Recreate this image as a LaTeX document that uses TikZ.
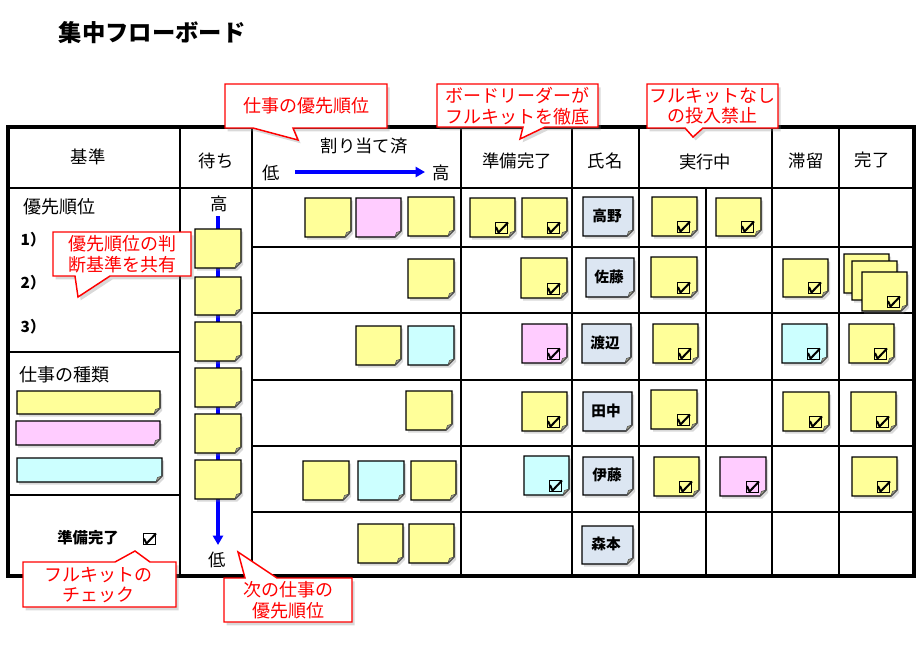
\documentclass[tikz,border=0pt]{standalone}
\usepackage{fontspec}
\setmainfont{Noto Sans CJK JP}
\usetikzlibrary{arrows.meta,shadows}
\definecolor{yel}{HTML}{FFFF99}
\definecolor{pnk}{HTML}{FFCCFF}
\definecolor{cyn}{HTML}{CCFFFF}
\definecolor{nam}{HTML}{DCE6F2}
\definecolor{foldc}{HTML}{A8A890}
\tikzset{
  stickyshape/.style={draw=black, line width=0.8pt,
    drop shadow={opacity=0.3, shadow xshift=1.6pt, shadow yshift=-2pt}},
  grid/.style={line width=1pt, black},
  outer/.style={line width=2.6pt, black},
  hdr/.style={font=\fontsize{13}{15}\selectfont, inner sep=0pt},
  lft/.style={font=\fontsize{13.5}{15}\selectfont, inner sep=0pt},
  num/.style={font=\fontsize{11.5}{13}\selectfont\bfseries, inner sep=0pt},
  nm/.style={font=\fontsize{11}{13}\selectfont\bfseries, inner sep=0pt},
  cbox/.style={draw=red, line width=1.1pt, fill=white,
    drop shadow={opacity=0.3, shadow xshift=2pt, shadow yshift=-2.5pt}},
  ctext/.style={text=red, font=\fontsize{13.5}{15.5}\selectfont, align=center, inner sep=0pt},
  barrow/.style={line width=2.3pt, blue, -{Triangle[length=7pt,width=7.5pt]}},
}
\newcommand\stk[5]{%
  \path[stickyshape, fill=#5] (#1,#2) -- (#3,#2) -- (#3,#4-6) -- (#3-6,#4) -- (#1,#4) -- cycle;
  \filldraw[fill=foldc, draw=black!70, line width=0.4pt] (#3,#4-6) -- (#3-6,#4) -- (#3-4.5,#4-4.5) -- cycle;
}
\newcommand\chk[2]{%
  \draw[line width=0.6pt] (#1-20,#2-15) rectangle (#1-8,#2-4);
  \draw[line width=1.5pt, line join=round] (#1-19,#2-10) -- (#1-16.5,#2-4.5) -- (#1-7,#2-14.5);
}
\newcommand\stkc[5]{\stk{#1}{#2}{#3}{#4}{#5}\chk{#3}{#4}}
\begin{document}
\begin{tikzpicture}[x=0.75pt,y=-0.75pt]
\useasboundingbox (0,0) rectangle (924,647);
% title
\node[font=\fontsize{17.5}{20}\selectfont\bfseries, inner sep=0pt] (title) at (152,33) {集中フローボード};
% grid
\draw[grid] (180,127) -- (180,576) (252,127) -- (252,576) (461,127) -- (461,576)
  (572,127) -- (572,576) (639,127) -- (639,576) (772,127) -- (772,576) (839,127) -- (839,576)
  (706,188) -- (706,576);
\draw[grid] (8,188) -- (914,188);
\foreach \y in {247,313,380,446,512} \draw[grid] (252,\y) -- (914,\y);
\draw[grid] (8,352) -- (180,352) (8,495) -- (180,495);
\draw[outer] (8,127) rectangle (914,576);
% headers
\node[hdr] (h1) at (88,157) {基準};
\node[hdr] (h2) at (216,161) {待ち};
\node[hdr] (h3) at (364,146) {割り当て済};
\node[hdr] (hlo) at (271,173) {低};
\node[hdr] (hhi) at (441,173) {高};
\coordinate (ha) at (295,172);
\coordinate (hb) at (425,172);
\draw[barrow] (ha) -- (hb);
\node[hdr] (h4) at (517,161) {準備完了};
\node[hdr] (h5) at (605,161) {氏名};
\node[hdr] (h6) at (705,162) {実行中};
\node[hdr] (h7) at (806,161) {滞留};
\node[hdr] (h8) at (872,160) {完了};
% left column
\node[lft] (pr) at (59,207) {優先順位};
\node[num] (n1) at (33,240) {1）};
\node[num] (n2) at (33,283) {2）};
\node[num] (n3) at (33,327) {3）};
\node[lft] (kind) at (64,375) {仕事の種類};
\stk{17}{391}{160}{414}{yel}
\stk{16}{421}{160}{445}{pnk}
\stk{17}{458}{162}{482}{cyn}
\node[font=\fontsize{11.5}{13}\selectfont\bfseries, inner sep=0pt] (rd) at (88,538) {準備完了};
\draw[line width=0.6pt] (143,533) rectangle (155,544);
\draw[line width=1.5pt, line join=round] (144,538.5) -- (146.5,543.5) -- (156,533.5);
% waiting column
\node[hdr] (whi) at (219,204) {高};
\node[hdr] (wlo) at (217,560) {低};
\coordinate (wa) at (218,216);
\coordinate (wb) at (218,545);
\draw[barrow] (wa) -- (wb);
\foreach \a/\b in {229/268,277/315,322/361,368/407,414/453,460/499}{\stk{195}{\a}{241}{\b}{yel}}
% assigned
\stk{305}{198}{351}{237}{yel}
\stk{356}{198}{401}{237}{pnk}
\stk{408}{197}{454}{236}{yel}
\stk{408}{259}{454}{298}{yel}
\stk{356}{326}{401}{365}{yel}
\stk{408}{326}{454}{365}{cyn}
\stk{406}{391}{452}{430}{yel}
\stk{303}{461}{349}{500}{yel}
\stk{358}{461}{404}{500}{cyn}
\stk{411}{461}{456}{500}{yel}
\stk{358}{524}{403}{563}{yel}
\stk{409}{524}{454}{563}{yel}
% ready
\stkc{470}{198}{515}{237}{yel}
\stkc{522}{198}{567}{237}{yel}
\stkc{521}{258}{567}{298}{yel}
\stkc{522}{324}{567}{363}{pnk}
\stkc{522}{392}{567}{431}{yel}
\stkc{524}{456}{569}{495}{cyn}
% names
\stk{583}{197}{633}{236}{nam}\node[nm] (p1) at (607,216) {高野};
\stk{586}{258}{634}{297}{nam}\node[nm] (p2) at (609,277) {佐藤};
\stk{582}{324}{631}{363}{nam}\node[nm] (p3) at (605,343) {渡辺};
\stk{583}{392}{632}{431}{nam}\node[nm] (p4) at (606,411) {田中};
\stk{583}{457}{633}{495}{nam}\node[nm] (p5) at (607,475) {伊藤};
\stk{582}{526}{633}{564}{nam}\node[nm] (p6) at (606,544) {森本};
% in progress
\stkc{652}{197}{697}{236}{yel}
\stkc{716}{198}{761}{236}{yel}
\stkc{651}{257}{697}{297}{yel}
\stkc{653}{324}{698}{363}{yel}
\stkc{651}{390}{697}{429}{yel}
\stkc{654}{457}{699}{496}{yel}
\stkc{720}{457}{766}{496}{pnk}
% stagnant
\stkc{783}{259}{828}{297}{yel}
\stkc{782}{324}{827}{363}{cyn}
\stkc{783}{392}{829}{431}{yel}
% done
\stk{844}{254}{889}{293}{yel}
\stk{852}{261}{897}{300}{yel}
\stkc{862}{272}{907}{311}{yel}
\stkc{849}{324}{894}{363}{yel}
\stkc{851}{392}{896}{431}{yel}
\stkc{852}{457}{897}{496}{yel}
% callouts
\path[cbox] (225,84) -- (387,84) -- (387,128) -- (293,128) -- (298,140) -- (253,128) -- (225,128) -- cycle;
\node[ctext] (c1) at (306,106) {仕事の優先順位};
\path[cbox] (437,84) -- (598,84) -- (598,127) -- (545,127) -- (520,139) -- (523,127) -- (437,127) -- cycle;
\node[ctext] (c2) at (517,106) {ボードリーダーが\\フルキットを徹底};
\path[cbox] (647,84) -- (778,84) -- (778,128) -- (703,128) -- (693,137) -- (685,128) -- (647,128) -- cycle;
\node[ctext] (c3) at (712,106) {フルキットなし\\の投入禁止};
\path[cbox] (53,232) -- (191,232) -- (191,276) -- (110,276) -- (78,297) -- (75,276) -- (53,276) -- cycle;
\node[ctext] (c4) at (122,254) {優先順位の判\\断基準を共有};
\path[cbox] (23,562) -- (115,562) -- (135,551) -- (150,562) -- (176,562) -- (176,607) -- (23,607) -- cycle;
\node[ctext] (c5) at (98,585) {フルキットの\\チェック};
\path[cbox] (224,578) -- (245,578) -- (238,552) -- (277,578) -- (352,578) -- (352,622) -- (224,622) -- cycle;
\node[ctext] (c6) at (288,600) {次の仕事の\\優先順位};
\end{tikzpicture}
\end{document}
